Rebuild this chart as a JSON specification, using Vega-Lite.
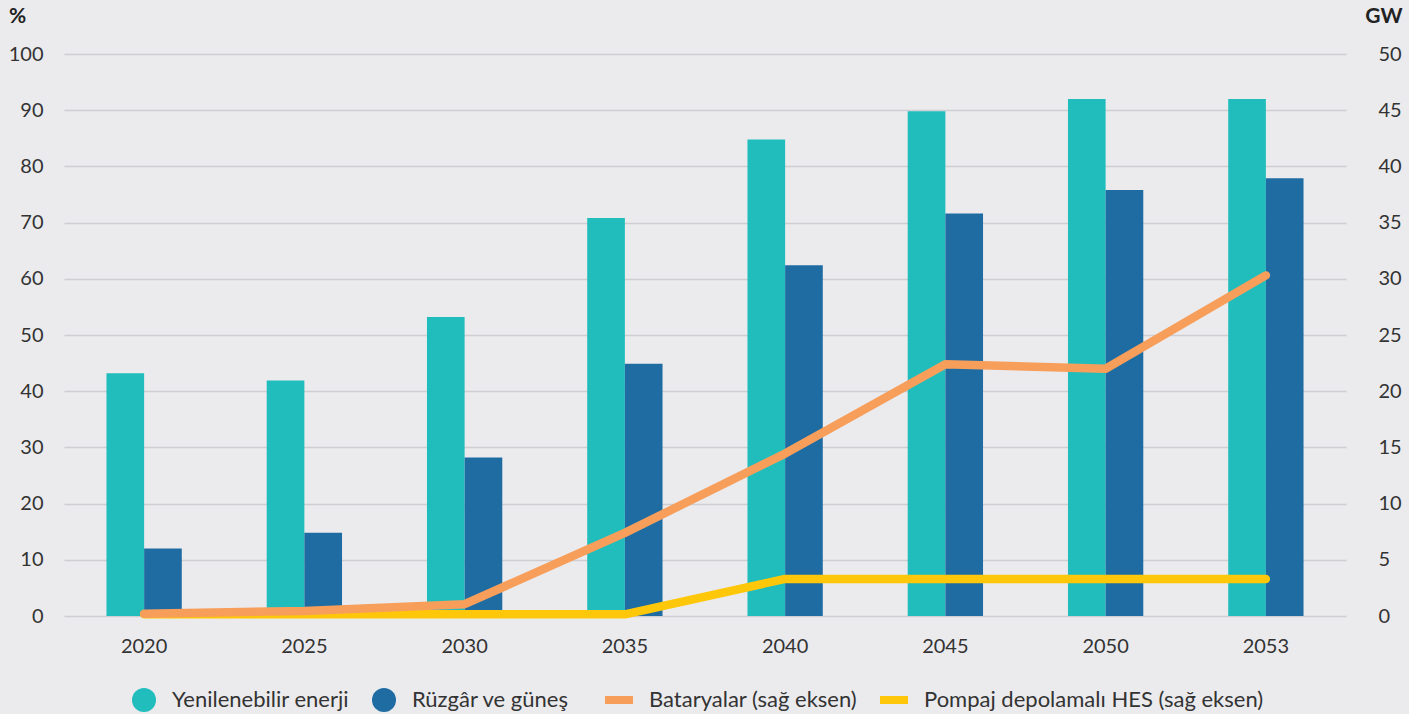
{
  "$schema": "https://vega.github.io/schema/vega-lite/v6.json",
  "width": 1282,
  "height": 562,
  "autosize": {"type": "none"},
  "padding": {"left": 64, "top": 54, "right": 63, "bottom": 98},
  "background": "#EBEBEE",
  "config": {
    "view": {"stroke": null},
    "font": "Lato",
    "axis": {
      "labelFont": "Lato",
      "labelFontSize": 20,
      "labelColor": "#333333",
      "domain": false,
      "ticks": false,
      "titleFont": "Lato",
      "titleColor": "#222222"
    },
    "legend": {
      "labelFont": "Lato",
      "labelFontSize": 22,
      "labelColor": "#333333",
      "labelLimit": 600,
      "padding": 0
    }
  },
  "datasets": {
    "bars": [
      {"year": "2020", "series": "Yenilenebilir enerji", "value": 43.2},
      {"year": "2025", "series": "Yenilenebilir enerji", "value": 41.9},
      {"year": "2030", "series": "Yenilenebilir enerji", "value": 53.2},
      {"year": "2035", "series": "Yenilenebilir enerji", "value": 70.8},
      {"year": "2040", "series": "Yenilenebilir enerji", "value": 84.8},
      {"year": "2045", "series": "Yenilenebilir enerji", "value": 89.8},
      {"year": "2050", "series": "Yenilenebilir enerji", "value": 92.0},
      {"year": "2053", "series": "Yenilenebilir enerji", "value": 92.0},
      {"year": "2020", "series": "Rüzgâr ve güneş", "value": 12.0},
      {"year": "2025", "series": "Rüzgâr ve güneş", "value": 14.8},
      {"year": "2030", "series": "Rüzgâr ve güneş", "value": 28.2},
      {"year": "2035", "series": "Rüzgâr ve güneş", "value": 44.9},
      {"year": "2040", "series": "Rüzgâr ve güneş", "value": 62.4},
      {"year": "2045", "series": "Rüzgâr ve güneş", "value": 71.6},
      {"year": "2050", "series": "Rüzgâr ve güneş", "value": 75.8},
      {"year": "2053", "series": "Rüzgâr ve güneş", "value": 77.9}
    ],
    "lines": [
      {"year": "2020", "series": "Pompaj depolamalı HES (sağ eksen)", "value": 0.15},
      {"year": "2025", "series": "Pompaj depolamalı HES (sağ eksen)", "value": 0.15},
      {"year": "2030", "series": "Pompaj depolamalı HES (sağ eksen)", "value": 0.15},
      {"year": "2035", "series": "Pompaj depolamalı HES (sağ eksen)", "value": 0.15},
      {"year": "2040", "series": "Pompaj depolamalı HES (sağ eksen)", "value": 3.3},
      {"year": "2045", "series": "Pompaj depolamalı HES (sağ eksen)", "value": 3.3},
      {"year": "2050", "series": "Pompaj depolamalı HES (sağ eksen)", "value": 3.3},
      {"year": "2053", "series": "Pompaj depolamalı HES (sağ eksen)", "value": 3.3},
      {"year": "2020", "series": "Bataryalar (sağ eksen)", "value": 0.2},
      {"year": "2025", "series": "Bataryalar (sağ eksen)", "value": 0.45},
      {"year": "2030", "series": "Bataryalar (sağ eksen)", "value": 1.05},
      {"year": "2035", "series": "Bataryalar (sağ eksen)", "value": 7.4},
      {"year": "2040", "series": "Bataryalar (sağ eksen)", "value": 14.45},
      {"year": "2045", "series": "Bataryalar (sağ eksen)", "value": 22.4},
      {"year": "2050", "series": "Bataryalar (sağ eksen)", "value": 22.0},
      {"year": "2053", "series": "Bataryalar (sağ eksen)", "value": 30.3}
    ]
  },
  "layer": [
    {
      "data": {"name": "bars"},
      "mark": {"type": "bar"},
      "encoding": {
        "x": {
          "field": "year",
          "type": "nominal",
          "scale": {"paddingInner": 0.53, "paddingOuter": 0.265},
          "axis": {"title": null, "labelAngle": 0, "labelPadding": 20}
        },
        "xOffset": {
          "field": "series",
          "type": "nominal",
          "sort": ["Yenilenebilir enerji", "Rüzgâr ve güneş"]
        },
        "y": {
          "field": "value",
          "type": "quantitative",
          "scale": {"domain": [0, 100], "nice": false},
          "axis": {
            "values": [0, 10, 20, 30, 40, 50, 60, 70, 80, 90, 100],
            "grid": true,
            "gridColor": "#CDCDD2",
            "gridWidth": 1.5,
            "labelPadding": 21,
            "title": "%",
            "titleAngle": 0,
            "titleAlign": "center",
            "titleBaseline": "middle",
            "titleX": -47,
            "titleY": -38,
            "titleFontSize": 21,
            "titleFontWeight": "bold"
          }
        },
        "color": {
          "field": "series",
          "type": "nominal",
          "sort": ["Yenilenebilir enerji", "Rüzgâr ve güneş"],
          "scale": {"range": ["#21BDBD", "#1F6CA3"]},
          "legend": {
            "title": null,
            "orient": "none",
            "legendX": 67,
            "legendY": 633,
            "direction": "horizontal",
            "symbolType": "circle",
            "symbolSize": 576,
            "symbolOpacity": 1,
            "labelOffset": 15,
            "columnPadding": 22
          }
        }
      }
    },
    {
      "data": {"name": "lines"},
      "mark": {"type": "line", "strokeWidth": 8.5, "strokeCap": "round", "strokeJoin": "round"},
      "encoding": {
        "x": {"field": "year", "type": "nominal"},
        "y": {
          "field": "value",
          "type": "quantitative",
          "scale": {"domain": [0, 50], "nice": false},
          "axis": {
            "orient": "right",
            "values": [0, 5, 10, 15, 20, 25, 30, 35, 40, 45, 50],
            "grid": false,
            "labelAlign": "left",
            "labelPadding": 32,
            "title": "GW",
            "titleAngle": 0,
            "titleAlign": "right",
            "titleBaseline": "middle",
            "titleX": 56,
            "titleY": -38,
            "titleFontSize": 21,
            "titleFontWeight": "bold"
          }
        },
        "stroke": {
          "field": "series",
          "type": "nominal",
          "sort": ["Bataryalar (sağ eksen)", "Pompaj depolamalı HES (sağ eksen)"],
          "scale": {"range": ["#F79E5B", "#FFC709"]},
          "legend": {
            "title": null,
            "orient": "none",
            "legendX": 537,
            "legendY": 628,
            "direction": "horizontal",
            "symbolType": "stroke",
            "symbolSize": 784,
            "symbolStrokeWidth": 8,
            "labelOffset": 12,
            "columnPadding": 6
          }
        }
      }
    }
  ],
  "resolve": {"scale": {"y": "independent"}, "axis": {"y": "independent"}}
}
